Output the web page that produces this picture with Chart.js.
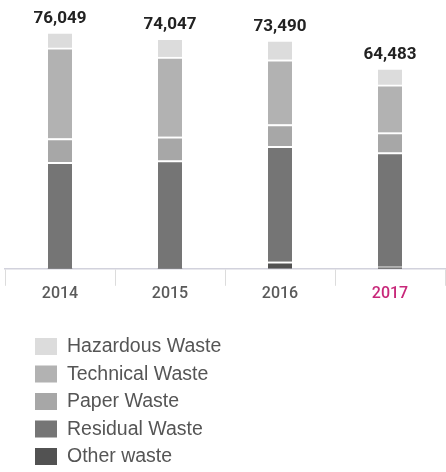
<!DOCTYPE html>
<html>
<head>
<meta charset="utf-8">
<script src="https://cdn.jsdelivr.net/npm/chart.js@4/dist/chart.umd.min.js"></script>
<style>
  body { margin: 0; background: #fff; }
  #wrap { width: 446px; height: 472px; }
</style>
</head>
<body>
<div id="wrap"><canvas id="myChart" width="446" height="472"></canvas></div>
<script>
// years on the x axis
const years = ['2014', '2015', '2016', '2017'];

// waste amounts per year
const otherWaste     = [0, 0, 2240, 640];
const residualWaste  = [34199, 34747, 37060, 36683];
const paperWaste     = [7650, 7670, 7030, 6390];
const technicalWaste = [29100, 25560, 20770, 15340];
const hazardousWaste = [5100, 6070, 6390, 5430];

// totals shown on top of each bar
const totals = years.map((y, i) =>
    otherWaste[i] + residualWaste[i] + paperWaste[i] + technicalWaste[i] + hazardousWaste[i]);

const sepBorder = { top: 2, bottom: 0, left: 0, right: 0 };

// draws the totals above the bars
const totalsPlugin = {
    id: 'totals',
    afterDatasetsDraw(chart) {
        const ctx = chart.ctx;
        const yScale = chart.scales.y;
        const xScale = chart.scales.x;
        ctx.save();
        ctx.font = 'bold 17px Roboto';
        ctx.fillStyle = '#222';
        ctx.textAlign = 'center';
        ctx.textBaseline = 'alphabetic';
        totals.forEach((t, i) => {
            const x = xScale.getPixelForValue(i);
            const y = yScale.getPixelForValue(t);
            ctx.fillText(t.toLocaleString('en-US'), x, y - 9);
        });
        ctx.restore();
    }
};

// vertical legend under the chart
const legendPlugin = {
    id: 'stackLegend',
    afterDraw(chart) {
        const ctx = chart.ctx;
        const sets = chart.data.datasets.slice().reverse();
        ctx.save();
        ctx.font = '19.5px "Liberation Sans"';
        ctx.textBaseline = 'middle';
        ctx.textAlign = 'left';
        sets.forEach((ds, i) => {
            const y = 338 + i * 27.5;
            ctx.fillStyle = ds.backgroundColor;
            ctx.fillRect(35, y, 22, 17);
            ctx.fillStyle = '#555';
            ctx.fillText(ds.label, 67, y + 9);
        });
        ctx.restore();
    }
};

const ctx = document.getElementById('myChart').getContext('2d');
const myChart = new Chart(ctx, {
    type: 'bar',
    data: {
        labels: years,
        datasets: [
            { label: 'Other waste', data: otherWaste, backgroundColor: '#525252' },
            { label: 'Residual Waste', data: residualWaste, backgroundColor: '#757575' },
            { label: 'Paper Waste', data: paperWaste, backgroundColor: '#a7a7a7' },
            { label: 'Technical Waste', data: technicalWaste, backgroundColor: '#b2b2b2' },
            { label: 'Hazardous Waste', data: hazardousWaste, backgroundColor: '#dcdcdc' }
        ].map(ds => Object.assign(ds, {
            barThickness: 24,
            borderColor: '#ffffff',
            borderWidth: sepBorder,
            borderSkipped: false
        }))
    },
    options: {
        responsive: false,
        animation: false,
        layout: {
            padding: { top: 32, left: 5, right: 1, bottom: 169 }
        },
        plugins: {
            legend: { display: false },
            tooltip: { enabled: false }
        },
        scales: {
            x: {
                stacked: true,
                border: { color: '#d2d2dc', width: 1.5 },
                grid: {
                    offset: true,
                    drawOnChartArea: false,
                    drawTicks: true,
                    tickLength: 17,
                    color: '#dcdcdc'
                },
                ticks: {
                    padding: -1,
                    font: { family: 'Roboto', size: 16, weight: '500' },
                    color: (c) => c.index === 3 ? '#c8287a' : '#5a5a5a'
                }
            },
            y: {
                stacked: true,
                display: false,
                min: 0,
                max: Math.max(...totals)
            }
        }
    },
    plugins: [totalsPlugin, legendPlugin]
});
</script>
</body>
</html>
